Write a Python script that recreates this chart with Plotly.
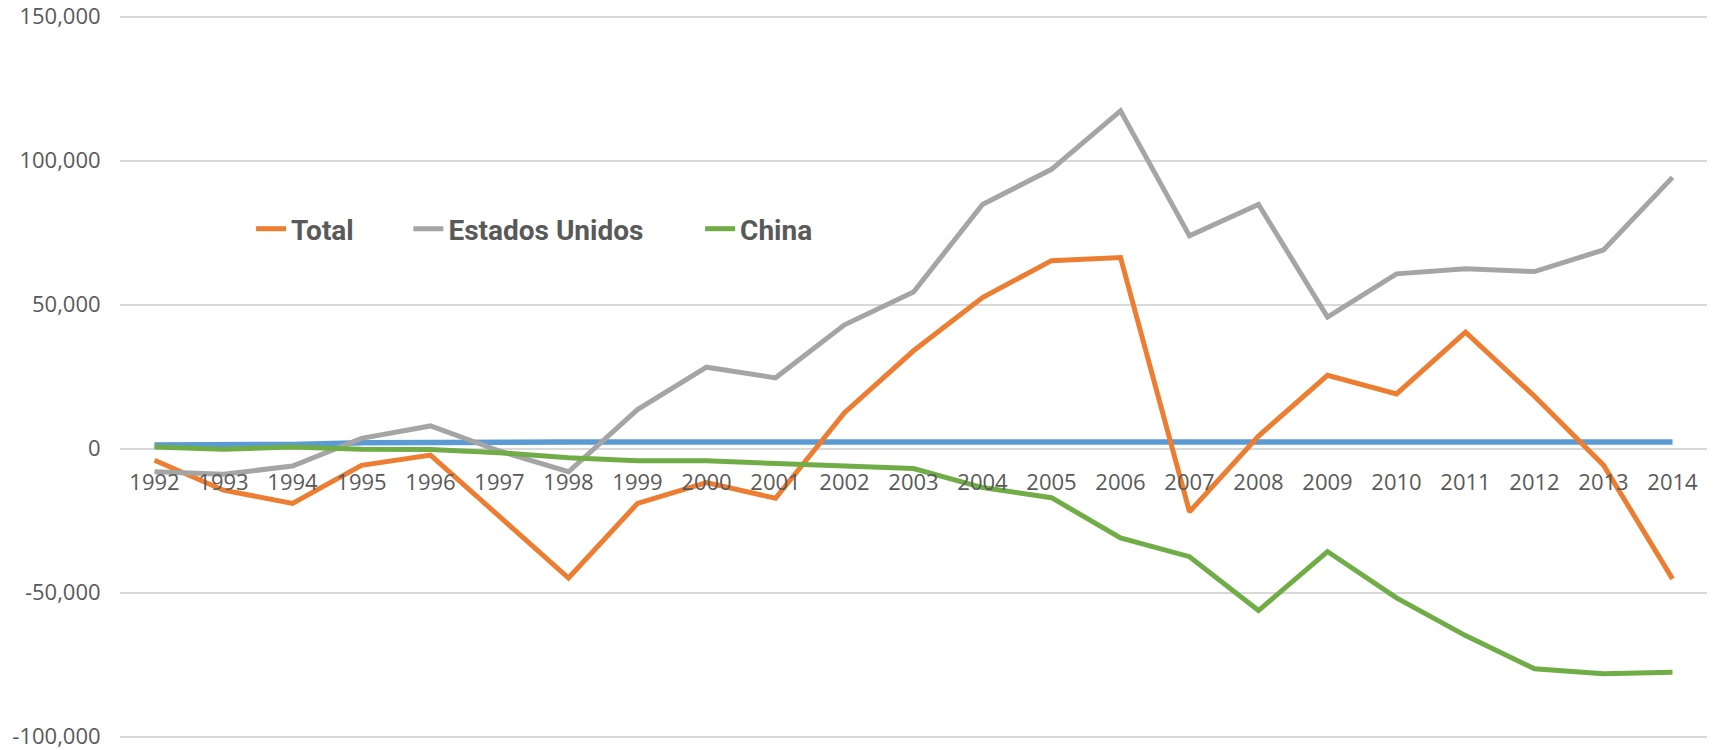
import plotly.graph_objects as go

years = [str(y) for y in range(1992, 2015)]

blue_series = [1300, 1300, 1500, 2100, 2300, 2300, 2300, 2300, 2300, 2300, 2300, 2300,
               2300, 2300, 2300, 2300, 2300, 2300, 2300, 2300, 2300, 2300, 2300]
total = [-4000, -14400, -19000, -5800, -2200, -23300, -44900, -19000, -11800, -17200,
         12500, 34000, 52500, 65300, 66400, -21900, 4400, 25500, 19000, 40500, 18200,
         -5700, -45200]
estados_unidos = [-8000, -8900, -6000, 3600, 7900, -800, -8000, 13600, 28300, 24600,
                  43000, 54400, 84800, 97000, 117300, 73900, 84800, 45700, 60700, 62500,
                  61500, 69000, 94200]
china = [600, -200, 600, -200, -300, -1400, -3100, -4200, -4200, -5100, -6000, -6900,
         -13500, -17000, -31000, -37500, -56200, -35700, -51800, -64900, -76400, -78100,
         -77600]

y_tickvals = [-100000, -50000, 0, 50000, 100000, 150000]
y_ticktext = ["-100,000", "-50,000", "0", "50,000", "100,000", "150,000"]

names = ["Total", "Estados Unidos", "China"]
colors = {"blue": "#5B9BD5", "Total": "#ED7D31", "Estados Unidos": "#A5A5A5", "China": "#70AD47"}
legend_ids = ["legend", "legend2", "legend3"]

W, H = 1715, 750
L, R, T, B = 120, 8, 15, 12
pw = W - L - R
ph = H - T - B
px_per_val = 720 / 250000.0
y_lo = -100000 - (13.3 - B) / px_per_val
y_hi = 150000 + (16.7 - T) / px_per_val

fig = go.Figure()
fig.add_trace(go.Scatter(x=years, y=blue_series, mode="lines", showlegend=False,
                         line=dict(color=colors["blue"], width=5.5)))
for name, vals, lg in zip(names, [total, estados_unidos, china], legend_ids):
    fig.add_trace(go.Scatter(x=years, y=vals, mode="lines", name=name, legend=lg,
                             line=dict(color=colors[name], width=5)))

legend_font = dict(family="Roboto, sans-serif", size=28, color="#595959", weight="bold")
text_starts = [292.7, 450.0, 741.7]  # page x of legend texts
leg_y = (H - B - 229) / ph


def legend_cfg(text_x):
    left = text_x - 41.6 - L
    return dict(orientation="h", x=left / pw, xanchor="left", y=leg_y, yanchor="middle",
                bgcolor="rgba(0,0,0,0)", font=legend_font)


fig.update_layout(
    width=W, height=H,
    margin=dict(l=L, r=R, t=T, b=B, pad=0, autoexpand=False),
    paper_bgcolor="white", plot_bgcolor="white",
    font=dict(family="Open Sans, sans-serif", color="#595959", size=22),
    showlegend=True,
    legend=legend_cfg(text_starts[0]),
    legend2=legend_cfg(text_starts[1]),
    legend3=legend_cfg(text_starts[2]),
    xaxis=dict(
        type="category",
        range=[-0.5, 22.5],
        anchor="free",
        position=(0 - y_lo) / (y_hi - y_lo),
        showgrid=False, showline=False, zeroline=False,
        automargin=False,
        ticks="outside", ticklen=14, tickcolor="rgba(0,0,0,0)",
        tickfont=dict(family="Open Sans, sans-serif", size=22, color="#595959"),
    ),
    yaxis=dict(
        range=[y_lo, y_hi],
        tickvals=y_tickvals, ticktext=y_ticktext,
        showgrid=True, gridcolor="#D9D9D9", gridwidth=2,
        zeroline=False, showline=False,
        automargin=False,
        ticks="outside", ticklen=14, tickcolor="rgba(0,0,0,0)",
        ticklabeloverflow="allow",
        tickfont=dict(family="Open Sans, sans-serif", size=22, color="#595959"),
    ),
)

fig.write_html(
    "out.html",
    config={"displayModeBar": False},
    post_script="document.body.style.margin='0';document.body.style.overflow='hidden';",
)
